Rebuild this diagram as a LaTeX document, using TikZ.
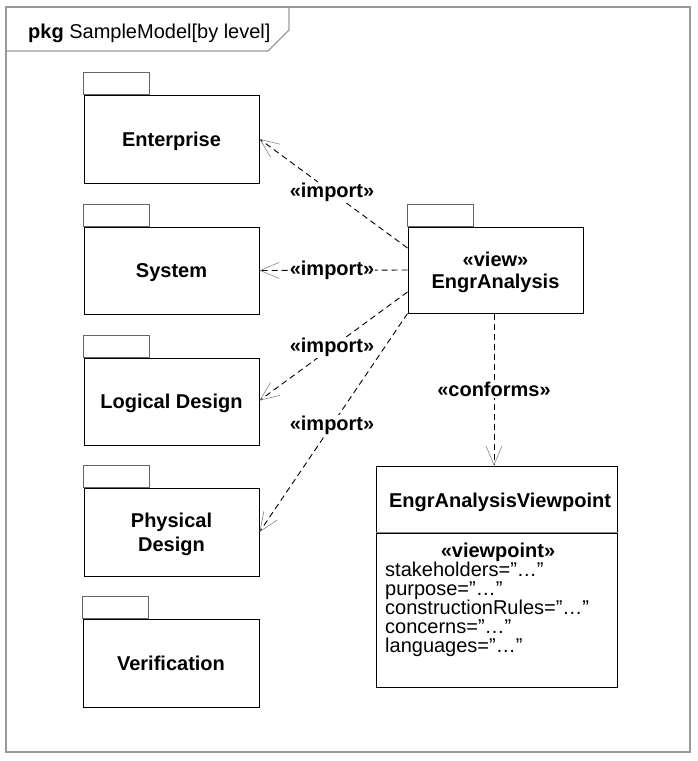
\documentclass[tikz,border=0pt]{standalone}
\usepackage{fontspec}
\setmainfont{Liberation Sans}
\usetikzlibrary{arrows.meta}
\begin{document}
\fontsize{20}{24}\selectfont
\begin{tikzpicture}[x=1pt,y=-1pt,
		pkgbox/.style={draw,line width=1pt,minimum width=175pt,minimum height=88pt,font=\bfseries,align=center,inner sep=0pt,text depth=0pt},
		tabline/.style={draw=black!60,line width=0.8pt},
		dep/.style={line width=0.9pt,dash pattern=on 6pt off 4pt,-{Straight Barb[length=19pt,width=16pt,color=black!55,line width=0.5pt]}},
		lbl/.style={fill=white,font=\bfseries,inner sep=1pt}]
		\useasboundingbox (0,0) rectangle (697,761);
		% frame
		\draw[black!40,line width=1.5pt] (6,7) rectangle (690,752);
		\draw[black!40,line width=1.2pt] (6,51) -- (268,51) -- (289,30) -- (289,7);
		\node[anchor=base west,inner sep=0pt] (title) at (28,38) {\textbf{pkg} SampleModel[by level]};
		% packages
		\node[pkgbox] (ent) at (171.5,139) {Enterprise};
		\node[pkgbox,minimum height=87pt] (sys) at (171.5,270.5) {System};
		\node[pkgbox,minimum height=87pt] (log) at (171.5,401.5) {Logical Design};
		\node[pkgbox] (phy) at (171.5,532) {Physical\\Design};
		\node[pkgbox,minimum width=176pt] (ver) at (171,663) {Verification};
		\node[pkgbox,minimum height=86pt] (ea) at (495.5,270) {«view»\\[-2pt]EngrAnalysis};
		\foreach \p in {ent,sys,log,phy,ver,ea}
			\draw[tabline] (\p.north west) rectangle ++(66,-22);
		% viewpoint
		\node[draw,line width=1pt,minimum width=241pt,minimum height=66pt,inner sep=0pt] (vpt) at (496.5,499) {};
		\node[draw,line width=1pt,minimum width=241pt,minimum height=154pt,inner sep=0pt,anchor=north] (vpb) at (vpt.south) {};
		\draw[black!45,line width=1.2pt] (vpt.south west) -- (vpt.south east);
		\node[anchor=base,inner sep=0pt,font=\bfseries] (vpn) at (500,507) {EngrAnalysisViewpoint};
		\node[anchor=base,inner sep=0pt,font=\bfseries] (vps) at (498,557) {«viewpoint»};
		\node[anchor=north west,inner sep=0pt,align=left,font=\fontsize{20}{19}\selectfont] (vpa) at (385,561.5)
			{stakeholders=”…”\\purpose=”…”\\constructionRules=”…”\\concerns=”…”\\languages=”…”};
		% dependencies
		\draw[dep] ([yshift=22pt]ea.west) -- (ent.east) node[lbl,pos=0.51] {«import»};
		\draw[dep] (ea.west) -- (sys.east) node[lbl,pos=0.51] {«import»};
		\draw[dep] ([yshift=-22pt]ea.west) -- ([yshift=1pt]log.east) node[lbl,pos=0.51] {«import»};
		\draw[dep] (ea.south west) -- (phy.east) node[lbl,pos=0.51] {«import»};
		\draw[dep] ([xshift=-1.5pt]ea.south) -- ([xshift=-1.5pt]ea.south |- vpt.north) node[lbl,pos=0.5] {«conforms»};
	\end{tikzpicture}
\end{document}
